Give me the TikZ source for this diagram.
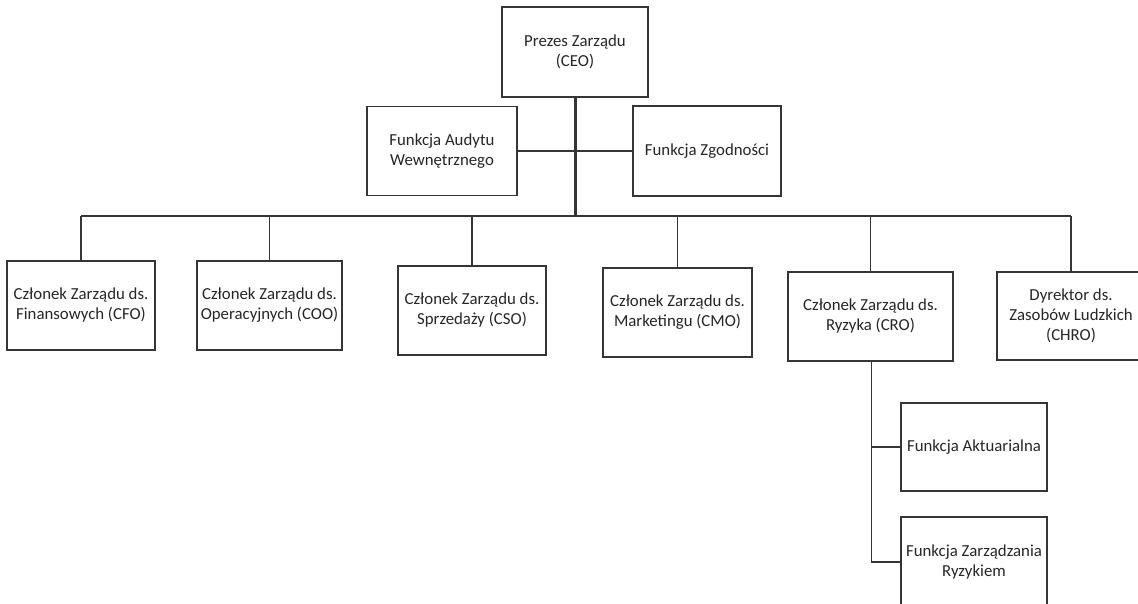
\documentclass[tikz,border=0pt]{standalone}
\usepackage{fontspec}
\setmainfont{Carlito}
\begin{document}
\begin{tikzpicture}[x=1pt,y=-1pt,
  box/.style={draw=linec, line width=1.5pt, fill=white, align=center, inner sep=2pt,
    font=\fontsize{16.8}{20}\selectfont, text=textc},
  conn/.style={draw=linec, line width=1.8pt},
  trunk/.style={draw=linec, line width=3pt}]
\definecolor{linec}{HTML}{353535}
\definecolor{textc}{HTML}{262626}
\useasboundingbox (0,0) rectangle (1138,603);
\clip (0,0) rectangle (1138,603);
\fill[white] (0,0) rectangle (1138,603);
% nodes
\node[box, minimum width=146pt, minimum height=90pt] (ceo) at (575,52) {Prezes Zarządu\\(CEO)};
\node[box, minimum width=150pt, minimum height=89pt] (audit) at (442,151) {Funkcja Audytu\\Wewnętrznego};
\node[box, minimum width=148pt, minimum height=90pt] (comp) at (707,151) {Funkcja Zgodności};
\node[box, minimum width=148pt, minimum height=89pt] (cfo) at (81,305.5) {Członek Zarządu ds.\\Finansowych (CFO)};
\node[box, minimum width=145pt, minimum height=89pt] (coo) at (269.5,305.5) {Członek Zarządu ds.\\Operacyjnych (COO)};
\node[box, minimum width=148pt, minimum height=89pt] (cso) at (472,310.5) {Członek Zarządu ds.\\Sprzedaży (CSO)};
\node[box, minimum width=149pt, minimum height=89pt] (cmo) at (677.5,312.5) {Członek Zarządu ds.\\Marketingu (CMO)};
\node[box, minimum width=165pt, minimum height=89pt] (cro) at (870.5,316.5) {Członek Zarządu ds.\\Ryzyka (CRO)};
\node[box, minimum width=148pt, minimum height=88pt] (chro) at (1071,316) {Dyrektor ds.\\Zasobów Ludzkich\\(CHRO)};
\node[box, minimum width=146pt, minimum height=88pt] (akt) at (974,447) {Funkcja Aktuarialna};
\node[box, minimum width=146pt, minimum height=90pt] (ryz) at (974,562) {Funkcja Zarządzania\\Ryzykiem};
% connectors
\coordinate (bar) at (575,216);
\draw[conn] (audit.east) -- (audit.east -| comp.west);
\draw[trunk] (ceo.south) -- (ceo.south |- bar);
\draw[conn] (cfo.north |- bar) -- (chro.north |- bar);
\foreach \n in {cfo,coo,cso,cmo,cro,chro}{
  \draw[conn] (\n.north |- bar) -- (\n.north);
}
\coordinate (crodown) at ([xshift=1pt]cro.south);
\draw[conn] (crodown) |- (ryz.west);
\draw[conn] (crodown |- akt.west) -- (akt.west);
\end{tikzpicture}
\end{document}
